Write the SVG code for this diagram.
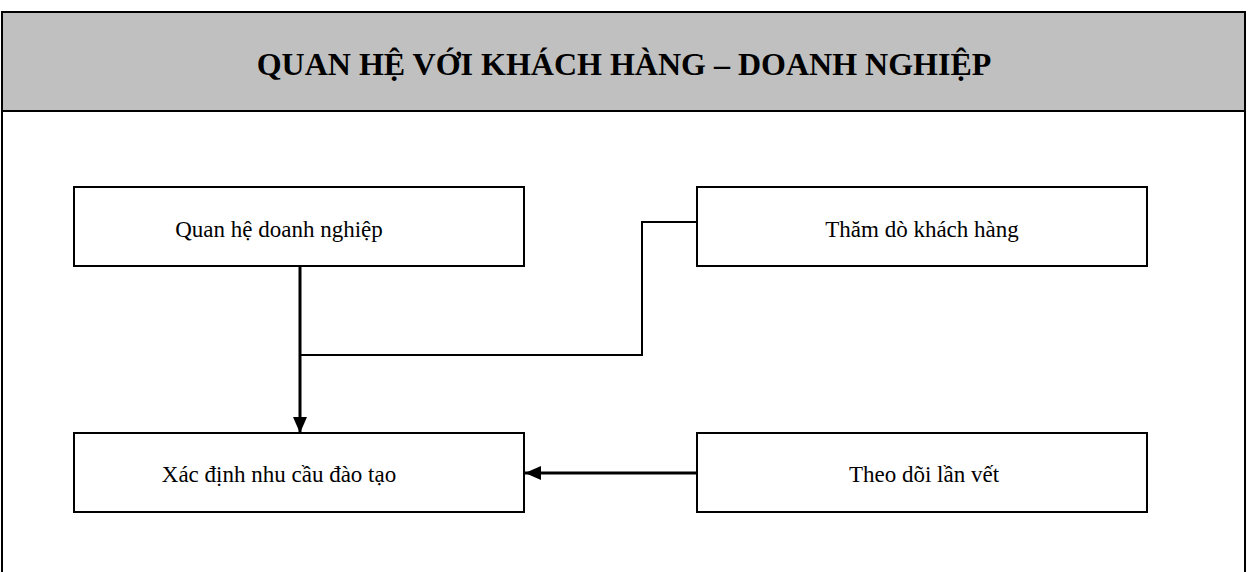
<svg xmlns="http://www.w3.org/2000/svg" width="1248" height="572" viewBox="0 0 1248 572">
  <style>
    .frame { fill: none; stroke: #000; stroke-width: 2; }
    .box { fill: #fff; stroke: #000; stroke-width: 2; }
    .label { font-family: "Liberation Serif", "Times New Roman", serif; font-size: 23px; fill: #000; text-anchor: middle; }
    .title { font-family: "Liberation Serif", "Times New Roman", serif; font-size: 32px; font-weight: bold; fill: #000; text-anchor: middle; }
    .link { fill: none; stroke: #000; stroke-width: 2; }
    .link-thick { fill: none; stroke: #000; stroke-width: 3; }
  </style>
  <defs>
    <marker id="arrow" viewBox="0 0 16 14" refX="16" refY="7" markerWidth="16" markerHeight="14" markerUnits="userSpaceOnUse" orient="auto">
      <path d="M0,0 L16,7 L0,14 Z" fill="#000"/>
    </marker>
  </defs>

  <!-- page frame with grey header band -->
  <g id="header">
    <rect x="2" y="12" width="1243" height="99" fill="#c0c0c0"/>
    <path class="frame" d="M2,572 V12 H1245 V572 M2,111 H1245"/>
    <text class="title" x="624" y="75">QUAN HỆ VỚI KHÁCH HÀNG – DOANH NGHIỆP</text>
  </g>

  <g id="connectors">
    <line class="link-thick" x1="300" y1="266" x2="300" y2="433" marker-end="url(#arrow)"/>
    <polyline class="link" points="300,355 642,355 642,222 697,222"/>
    <line class="link-thick" x1="697" y1="473" x2="525" y2="473" marker-end="url(#arrow)"/>
  </g>

  <g id="node-quan-he">
    <rect class="box" x="74" y="187" width="450" height="79"/>
    <text class="label" x="279" y="237">Quan hệ doanh nghiệp</text>
  </g>
  <g id="node-tham-do">
    <rect class="box" x="697" y="187" width="450" height="79"/>
    <text class="label" x="922" y="237">Thăm dò khách hàng</text>
  </g>
  <g id="node-xac-dinh">
    <rect class="box" x="74" y="433" width="450" height="79"/>
    <text class="label" x="279" y="482">Xác định nhu cầu đào tạo</text>
  </g>
  <g id="node-theo-doi">
    <rect class="box" x="697" y="433" width="450" height="79"/>
    <text class="label" x="924" y="482">Theo dõi lần vết</text>
  </g>
</svg>
